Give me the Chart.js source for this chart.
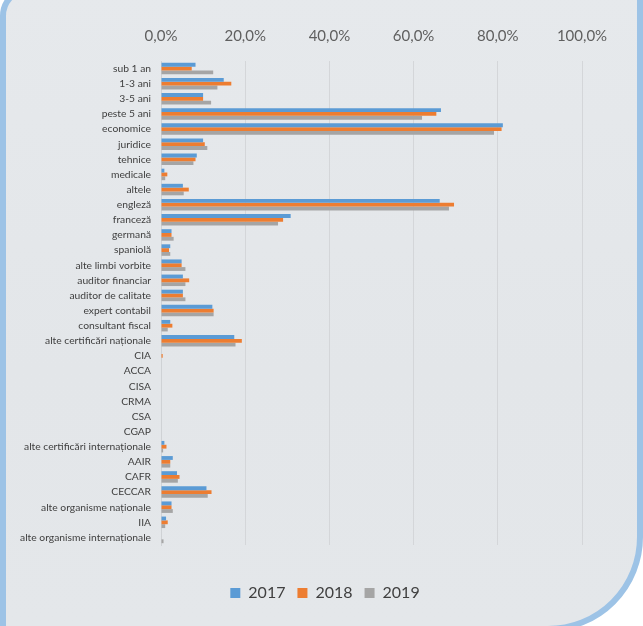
<!DOCTYPE html>
<html>
<head>
<meta charset="utf-8">
<script src="https://cdn.jsdelivr.net/npm/chart.js@4/dist/chart.umd.min.js"></script>
<style>
  html, body { margin: 0; padding: 0; background: #ffffff; overflow: hidden; }
  #frame {
    position: absolute; left: 0; top: -14px; width: 643px; height: 646px;
    box-sizing: border-box;
    border: 6px solid #9dc3e6;
    border-radius: 30px 0 95px 0;
    background: linear-gradient(180deg, #e6e9ec 0%, #e3e6e9 60%, #e4e7ea 100%);
  }
  #wrap { position: absolute; left: 0; top: 0; width: 643px; height: 626px; }
</style>
</head>
<body>
<div id="frame"></div>
<div id="wrap"><canvas id="chart" width="643" height="626"></canvas></div>
<script>
// Categories (experience, education, languages, certifications, memberships)
const categories = [
  'sub 1 an', '1-3 ani', '3-5 ani', 'peste 5 ani',
  'economice', 'juridice', 'tehnice', 'medicale', 'altele',
  'engleză', 'franceză', 'germană', 'spaniolă', 'alte limbi vorbite',
  'auditor financiar', 'auditor de calitate', 'expert contabil', 'consultant fiscal',
  'alte certificări naționale',
  'CIA', 'ACCA', 'CISA', 'CRMA', 'CSA', 'CGAP', 'alte certificări internaționale',
  'AAIR', 'CAFR', 'CECCAR', 'alte organisme naționale', 'IIA', 'alte organisme internaționale'
];

// Shares in percent, per year
const values2017 = [
  8.2, 14.9, 10.0, 66.5,
  81.2, 10.0, 8.5, 0.8, 5.2,
  66.2, 30.8, 2.5, 2.2, 4.9,
  5.2, 5.2, 12.2, 2.2,
  17.4,
  0, 0, 0, 0, 0, 0, 0.8,
  2.8, 3.8, 10.8, 2.5, 1.2, 0
];
const values2018 = [
  7.3, 16.7, 10.0, 65.4,
  80.9, 10.4, 8.2, 1.5, 6.6,
  69.6, 29.0, 2.5, 1.9, 4.9,
  6.7, 5.2, 12.5, 2.7,
  19.2,
  0.4, 0, 0, 0, 0, 0, 1.3,
  2.2, 4.4, 12.0, 2.5, 1.6, 0
];
const values2019 = [
  12.4, 13.4, 11.9, 62.0,
  79.1, 11.0, 7.7, 1.0, 5.4,
  68.4, 27.8, 3.0, 2.2, 5.8,
  5.8, 5.8, 12.5, 1.6,
  17.7,
  0, 0, 0, 0, 0, 0, 0.5,
  2.2, 4.0, 11.1, 2.8, 1.0, 0.6
];

const seriesLabels = ['2017', '2018', '2019'];
const xTicks = [0, 20, 40, 60, 80, 100];

const colors = ['#5b9bd5', '#ed7d31', '#a5a5a5'];
const fontFamily = 'Lato, "Open Sans", "Liberation Sans", sans-serif';

function pct(v) {
  return v.toFixed(1).replace('.', ',') + '%';
}

// centre the legend under the whole panel rather than the layout box
const legendShift = {
  id: 'legendShift',
  afterLayout(chart) {
    const lg = chart.legend;
    if (lg) { lg.left += 29; lg.right += 29; }
  }
};

new Chart(document.getElementById('chart'), {
  type: 'bar',
  data: {
    labels: categories,
    datasets: [values2017, values2018, values2019].map((vals, i) => ({
      label: seriesLabels[i],
      data: vals,
      backgroundColor: colors[i],
      borderWidth: 0,
      categoryPercentage: 0.76,
      barPercentage: 1.0
    }))
  },
  plugins: [legendShift],
  options: {
    indexAxis: 'y',
    responsive: false,
    animation: false,
    layout: { padding: { top: 11, left: 10, right: 61, bottom: 15 } },
    plugins: {
      tooltip: { enabled: false },
      legend: {
        position: 'bottom',
        labels: {
          boxWidth: 10, boxHeight: 10, padding: 12,
          color: '#404040',
          font: { family: fontFamily, size: 16 }
        }
      }
    },
    scales: {
      x: {
        position: 'top',
        min: 0, max: 100,
        afterBuildTicks: (scale) => { scale.ticks = xTicks.map(v => ({ value: v })); },
        ticks: {
          padding: 16,
          color: '#5f5f5f',
          font: { family: fontFamily, size: 15 },
          callback: (v) => pct(v)
        },
        grid: { color: '#d4d6d9', drawTicks: false, lineWidth: 1 },
        border: { display: false }
      },
      // empty band that keeps the legend clear of the plot
      gap: {
        axis: 'x',
        position: 'bottom',
        display: true,
        afterFit: (scale) => { scale.height = 28; },
        ticks: { display: false },
        grid: { display: false, drawTicks: false },
        border: { display: false }
      },
      y: {
        afterFit: (scale) => { scale.width = 151; },
        ticks: {
          padding: 10,
          autoSkip: false,
          color: '#404040',
          font: { family: fontFamily, size: 10.3 }
        },
        grid: { display: false, drawTicks: false },
        border: { display: true, color: '#cfd2d5' }
      }
    }
  }
});
</script>
</body>
</html>
